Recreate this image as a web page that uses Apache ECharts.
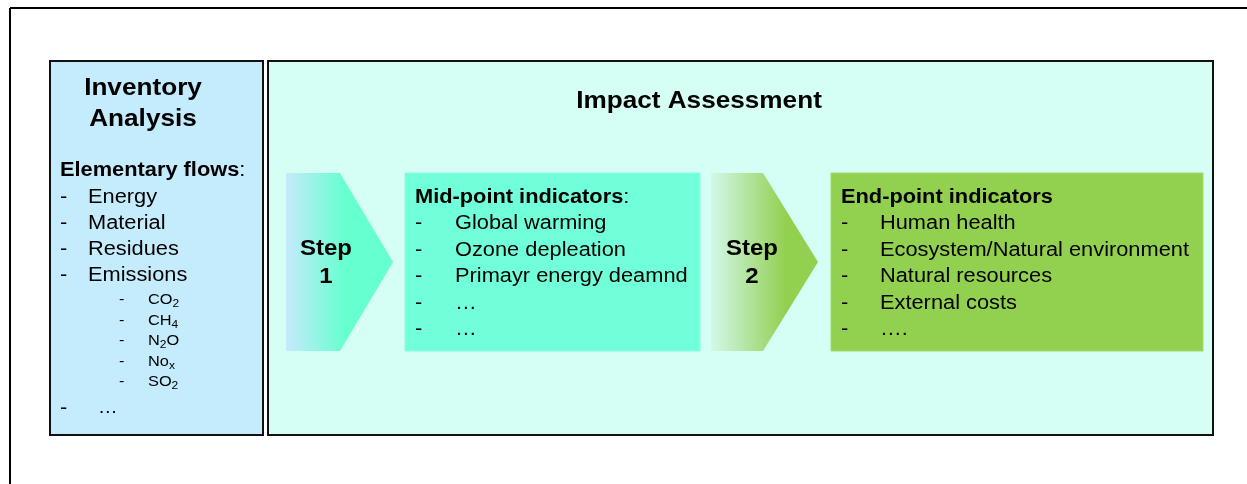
<!DOCTYPE html>
<html><head><meta charset="utf-8">
<script src="https://cdn.jsdelivr.net/npm/echarts@6/dist/echarts.min.js"></script>
<style>html,body{margin:0;padding:0;background:#fff}#c{width:1247px;height:484px}</style>
</head><body><div id="c"></div><script>
const inventoryTitle = ['Inventory', 'Analysis'];
const impactTitle = 'Impact Assessment';
const elementaryHeading = 'Elementary flows';
const elementaryFlows = ['Energy', 'Material', 'Residues', 'Emissions'];
const emissionGases = [['CO', '2', ''], ['CH', '4', ''], ['N', '2', 'O'], ['No', 'x', ''], ['SO', '2', '']];
const midpointHeading = 'Mid-point indicators';
const midpointIndicators = ['Global warming', 'Ozone depleation', 'Primayr energy deamnd', '…', '…'];
const endpointHeading = 'End-point indicators';
const endpointIndicators = ['Human health', 'Ecosystem/Natural environment', 'Natural resources', 'External costs', '….'];
const stepLabels = [['Step', '1'], ['Step', '2']];

const FONT = '"Liberation Sans", Arial, sans-serif';
const SX = 1.09;
function txt(x, y, text, size, bold, align) {
  return { type: 'text', x: x, y: y, scaleX: SX, z: 10,
    style: { text: text, fontSize: size, fontWeight: bold ? 'bold' : 'normal', fontFamily: FONT,
      fill: '#000', textAlign: align || 'left', textVerticalAlign: 'middle' } };
}
function richTxt(x, y, text, rich, align) {
  const t = txt(x, y, text, 15, false, align);
  t.style.rich = rich;
  return t;
}
const g = [];
// outer frame
g.push({ type: 'line', shape: { x1: 10, y1: 8, x2: 1247, y2: 8 }, style: { stroke: '#000', lineWidth: 2 } });
g.push({ type: 'line', shape: { x1: 10, y1: 8, x2: 10, y2: 484 }, style: { stroke: '#000', lineWidth: 2 } });
// boxes
g.push({ type: 'rect', shape: { x: 50, y: 61, width: 213, height: 374 }, style: { fill: '#c5ecfd', stroke: '#111', lineWidth: 2 } });
g.push({ type: 'rect', shape: { x: 268, y: 61, width: 945, height: 374 }, style: { fill: '#d5fff4', stroke: '#111', lineWidth: 2 } });
// step arrows
function chevron(x0, xk, xp, c0, c1, mid) {
  return { type: 'polygon', shape: { points: [[x0, 173], [xk, 173], [xp, 262], [xk, 351], [x0, 351]] },
    style: { fill: { type: 'linear', x: 0, y: 0, x2: 1, y2: 0, global: false,
      colorStops: [{ offset: 0, color: c0 }, { offset: mid, color: c1 }, { offset: 1, color: c1 }] } } };
}
g.push(chevron(286, 340, 393, '#c6eafc', '#66ffcf', 0.55));
g.push(chevron(711, 763, 818, '#d3f8ea', '#92d050', 0.7));
// indicator boxes
g.push({ type: 'rect', shape: { x: 405, y: 173, width: 295, height: 178 }, style: { fill: '#70ffd9', stroke: '#8affe0', lineWidth: 1 } });
g.push({ type: 'rect', shape: { x: 831, y: 173, width: 372, height: 178 }, style: { fill: '#92d050', stroke: '#a3da6a', lineWidth: 1 } });

// Inventory texts
g.push(txt(143, 88, inventoryTitle[0], 24, true, 'center'));
g.push(txt(143, 119, inventoryTitle[1], 24, true, 'center'));
g.push(richTxt(60, 170, '{b|' + elementaryHeading + '}{r|:}', {
  b: { fontSize: 20, fontWeight: 'bold', fontFamily: FONT }, r: { fontSize: 20, fontFamily: FONT } }));
elementaryFlows.forEach(function (s, i) {
  const y = 197 + i * 26;
  g.push(txt(60, y, '-', 20, false));
  g.push(txt(88, y, s, 20, false));
});
const subRich = {
  n: { fontSize: 15, lineHeight: 19, fontFamily: FONT },
  s: { fontSize: 11, lineHeight: 11, fontFamily: FONT, verticalAlign: 'bottom' }
};
emissionGases.forEach(function (p, i) {
  const y = 300 + i * 20.5;
  g.push(txt(119, y, '-', 15, false));
  let t = '{n|' + p[0] + '}{s|' + p[1] + '}';
  if (p[2]) t += '{n|' + p[2] + '}';
  g.push(richTxt(148, y, t, subRich));
});
g.push(txt(60, 408, '-', 20, false));
g.push(txt(98, 408, '…', 18, false));

// Impact title
g.push(txt(699, 101, impactTitle, 24, true, 'center'));
// steps
[326, 752].forEach(function (cx, i) {
  g.push(txt(cx, 249, stepLabels[i][0], 22, true, 'center'));
  g.push(txt(cx, 277, stepLabels[i][1], 22, true, 'center'));
});
// mid-point
g.push(richTxt(415, 197, '{b|' + midpointHeading + '}{r|:}', {
  b: { fontSize: 20, fontWeight: 'bold', fontFamily: FONT }, r: { fontSize: 20, fontFamily: FONT } }));
midpointIndicators.forEach(function (s, i) {
  const y = 223.5 + i * 26.5;
  g.push(txt(415, y, '-', 20, false));
  g.push(txt(455, y, s, 20, false));
});
// end-point
g.push(txt(841, 197, endpointHeading, 20, true));
endpointIndicators.forEach(function (s, i) {
  const y = 223.5 + i * 26.5;
  g.push(txt(841, y, '-', 20, false));
  g.push(txt(880, y, s, 20, false));
});

const chart = echarts.init(document.getElementById('c'), null, { renderer: 'canvas' });
chart.setOption({ backgroundColor: '#fff', animation: false, graphic: g });
</script></body></html>
